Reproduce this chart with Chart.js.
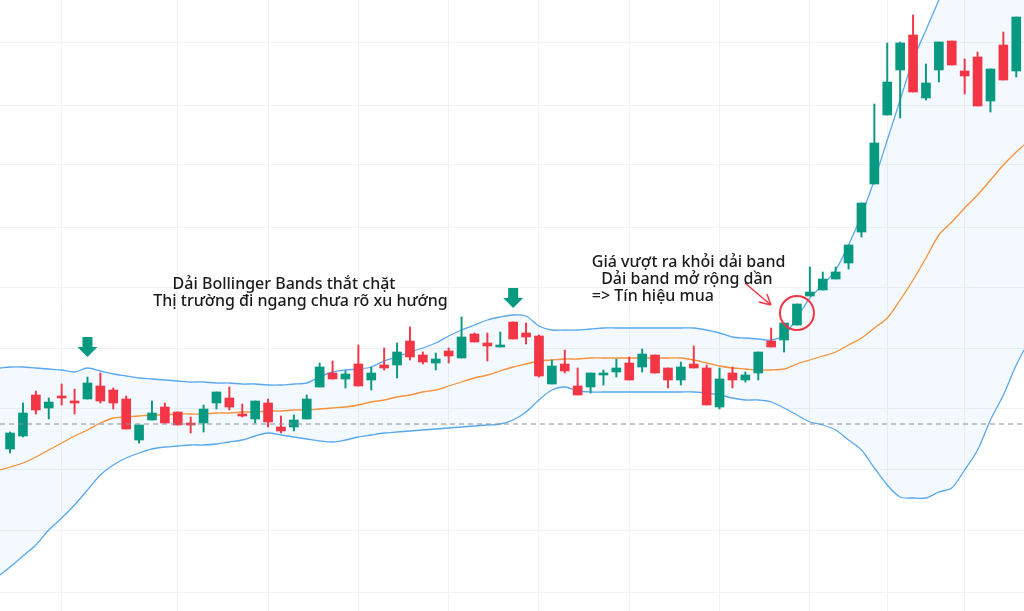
<!DOCTYPE html>
<html><head><meta charset="utf-8">
<script src="https://cdn.jsdelivr.net/npm/chart.js@4/dist/chart.umd.min.js"></script>
<style>html,body{margin:0;padding:0;background:#fff;overflow:hidden}</style>
</head><body>
<canvas id="c" width="1024" height="611"></canvas>
<script>
const opens  = [251,264,305,292,304,299,301,314,310,301,260,280,293,288,276,277,297,302,286,281,297,273,273,281,313,327,321,336,320,335,335,359,345,337,349,342,366,357,353,378,367,364,316,336,314,313,325,328,337,333,345,332,320,336,332,293,327,320,327,359,360,375,404,410,421,437,468,516,585,630,665,602,630,659,629,643,599,655,629];
const closes = [267,287,290,298,302,297,317,299,297,271,275,287,277,275,275,291,308,293,284,299,278,269,280,301,333,321,326,314,327,332,348,343,338,341,344,363,358,354,354,361,363,324,334,329,305,327,326,332,320,346,327,320,333,332,295,321,320,325,348,353,377,396,408,421,428,455,497,557,618,657,608,617,658,635,624,594,631,620,683];
const highs  = [268,297,309,302,316,311,323,327,312,304,275,299,297,288,283,295,308,313,296,299,301,284,285,305,337,339,329,355,333,352,357,373,348,347,352,383,367,367,368,378,377,365,340,350,332,327,330,341,343,351,345,332,338,354,335,332,333,328,348,372,377,396,433,428,433,455,497,596,657,658,685,636,658,659,641,648,631,668,683];
const lows   = [247,263,286,281,295,286,301,297,291,271,257,280,277,275,267,268,291,290,283,277,273,267,269,281,313,321,312,314,310,330,322,340,336,330,337,342,358,339,353,361,356,323,316,327,305,307,315,323,320,328,327,312,315,332,295,291,312,318,320,353,348,375,404,410,421,431,463,516,585,582,608,600,618,635,606,594,588,620,623];
const bandPositions = [-0.78,0,1,2,3,4,5,6,7,8,9,10,11,12,13,14,15,16,17,18,19,20,21,22,23,24,25,26,27,28,29,30,31,32,33,34,35,36,37,38,39,40,41,42,43,44,45,46,47,48,49,50,51,52,53,54,55,56,57,58,59,60,61,62,63,64,65,66,67,68,69,70,71,72,73,74,75,76,77,78,78.6];
const upperBand  = [332,333,333,332,331,330,328,332,329,326,324,322,321,320,319,318,318,317,317,316,316,315,315,316,317,323,328,330,331,333,339,343,348,352,357,364,370,375,380,383,385,384,374,370,370,370,371,372,372,372,372,372,372,372,372,370,367,363,362,361,360,365,382,402,415,430,455,485,520,560,600,640,670,700,730,760,790,820,850,880,900];
const middleBand = [230,233,237,243,250,257,264,270,277,282,283,284,285,285,286,286,286,287,287,288,288,289,289,290,290,291,292,293,295,298,300,303,305,308,310,314,318,322,325,329,333,336,339,340,341,341,342,342,342,342,342,342,342,342,340,337,334,332,331,330,330,331,336,340,344,348,355,362,372,382,400,420,442,465,478,492,505,520,535,548,555];
const lowerBand  = [125,133,144,155,170,182,195,210,225,235,242,247,251,253,254,255,255,256,258,260,264,267,265,263,261,259,258,260,263,265,267,268,269,270,271,272,273,274,275,276,280,288,300,310,313,309,308,308,308,308,308,308,308,308,308,307,305,302,300,300,298,292,285,278,275,270,260,250,232,215,203,202,202,208,212,230,250,280,305,335,350];
const gridPrices = [108,170,230,292,352,412,472,535,595,657];
const gridIndex  = [4,13,20,27,34,41,48,55,62,68,74];
const refPrice = 276;
const arrowMarks = [{i:6,p:343},{i:39,p:392}];
const circleMark = {i:61,p:387};
const notes = [
  {i:12.6,p:416,t:'Dải Bollinger Bands thắt chặt'},
  {i:11.1,p:399,t:'Thị trường đi ngang chưa rõ xu hướng'},
  {i:45.1,p:438,t:'Giá vượt ra khỏi dải band'},
  {i:45.5,p:421,t:' Dải band mở rộng dần'},
  {i:45.1,p:404,t:'=> Tín hiệu mua'}
];
const UP='#089981', DN='#f23645';
const col = opens.map((o,k)=> closes[k]>=o?UP:DN);
const idx = opens.map((_,k)=>k);

const overlay = {
  id:'overlay',
  afterDatasetsDraw(ch){
    const c=ch.ctx, xs=ch.scales.x, ys=ch.scales.y;
    c.save();
    c.strokeStyle='#8a8e99'; c.lineWidth=1; c.setLineDash([5,4]);
    const yr=ys.getPixelForValue(refPrice);
    c.beginPath(); c.moveTo(ch.chartArea.left,yr); c.lineTo(ch.chartArea.right,yr); c.stroke();
    c.setLineDash([]);
    c.fillStyle=UP;
    arrowMarks.forEach(a=>{
      const x=xs.getPixelForValue(a.i), y=ys.getPixelForValue(a.p);
      c.beginPath();
      c.moveTo(x-5,y-20); c.lineTo(x+5,y-20); c.lineTo(x+5,y-10); c.lineTo(x+10,y-10);
      c.lineTo(x,y); c.lineTo(x-10,y-10); c.lineTo(x-5,y-10); c.closePath(); c.fill();
    });
    const cx=xs.getPixelForValue(circleMark.i), cy=ys.getPixelForValue(circleMark.p);
    c.strokeStyle=DN; c.lineWidth=2;
    c.beginPath(); c.arc(cx,cy,17,0,Math.PI*2); c.stroke();
    c.lineWidth=1.5;
    c.beginPath(); c.moveTo(cx-52,cy-30); c.lineTo(cx-26,cy-8); c.stroke();
    c.beginPath(); c.moveTo(cx-26,cy-8); c.lineTo(cx-38,cy-11); c.moveTo(cx-26,cy-8); c.lineTo(cx-30,cy-19); c.stroke();
    c.fillStyle='#1a1a1a'; c.font='500 16px "Noto Sans"'; c.textBaseline='middle';
    notes.forEach(n=>c.fillText(n.t, xs.getPixelForValue(n.i), ys.getPixelForValue(n.p)));
    c.restore();
  }
};
const band = arr => bandPositions.map((x,k)=>({x, y:arr[k]}));

new Chart(document.getElementById('c'),{
  type:'bar',
  data:{datasets:[
    {type:'bar',data:idx.map(k=>({x:k,y:[lows[k],highs[k]]})),backgroundColor:col,barThickness:1.3,grouped:false,order:1},
    {type:'bar',data:idx.map(k=>({x:k,y:[opens[k],closes[k]]})),backgroundColor:col,barThickness:9,minBarLength:2,grouped:false,order:0},
    {type:'line',data:band(upperBand),borderColor:'#5aa9f0',borderWidth:1.3,pointRadius:0,fill:'+1',backgroundColor:'rgba(33,150,243,0.055)',order:3,tension:0.3},
    {type:'line',data:band(lowerBand),borderColor:'#5aa9f0',borderWidth:1.3,pointRadius:0,fill:false,order:3,tension:0.3},
    {type:'line',data:band(middleBand),borderColor:'#f7913a',borderWidth:1.3,pointRadius:0,fill:false,order:2,tension:0.3}
  ]},
  options:{
    responsive:false,animation:false,
    layout:{padding:0},
    plugins:{legend:{display:false},tooltip:{enabled:false}},
    scales:{
      x:{type:'linear',min:-0.78,max:78.6,offset:false,
         grid:{offset:false,color:'#f0f2f6',drawTicks:false},border:{display:false},
         ticks:{display:false},afterBuildTicks:s=>{s.ticks=gridIndex.map(v=>({value:v}));}},
      y:{min:89,max:700,grid:{color:'#f0f2f6',drawTicks:false},border:{display:false},
         ticks:{display:false},afterBuildTicks:s=>{s.ticks=gridPrices.map(v=>({value:v}));}}
    }
  },
  plugins:[overlay]
});
</script>
</body></html>
